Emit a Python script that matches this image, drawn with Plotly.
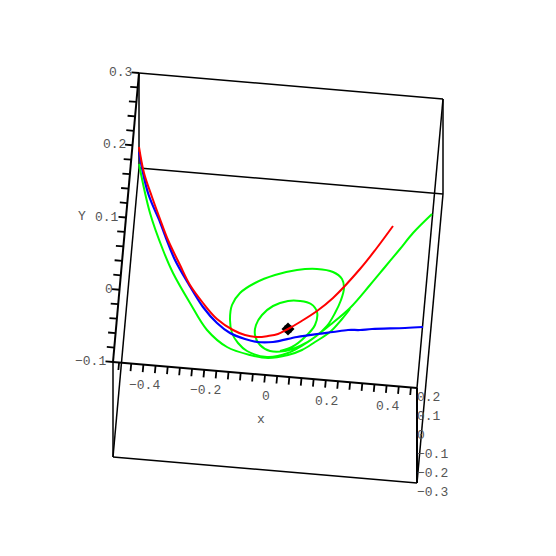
"""Box plot of three trajectories, drawn on a flat picture-unit axis."""
import plotly.graph_objects as go

# box axes (values)
x_ticks = [-0.48 + 0.04 * i for i in range(25)]
y_ticks = [-0.1 + 0.02 * i for i in range(21)]
x_labels = [(-0.4, "\u22120.4"), (-0.2, "\u22120.2"), (0.0, "0"), (0.2, "0.2"), (0.4, "0.4")]
y_labels = [(-0.1, "\u22120.1"), (0.0, "0"), (0.1, "0.1"), (0.2, "0.2"), (0.3, "0.3")]
z_labels = [(0.2, "0.2"), (0.1, "0.1"), (0.0, "0"), (-0.1, "\u22120.1"), (-0.2, "\u22120.2"), (-0.3, "\u22120.3")]

# curves
red_x = [139, 144, 152, 160, 168, 180, 190, 203, 217, 233, 245, 257, 268, 278, 288, 300, 317, 333, 360, 376, 393]
red_y = [147, 173, 197, 219, 240, 265, 285, 303, 319, 330, 335, 337, 336, 334, 329, 322, 311, 298, 269, 249, 226]

blue_x = [139, 148, 160, 166, 175, 188, 203, 217, 230, 245, 257, 273, 297, 317, 333, 348, 360, 372, 405, 423]
blue_y = [152, 193, 222, 238, 260, 283, 307, 323, 333, 339, 342, 342, 337, 334, 332, 330, 330, 329, 328, 327]

green_a_x = [139, 150, 163, 173, 190, 207, 227, 250, 268, 288, 302, 315, 330, 342, 350]
green_a_y = [164, 213, 250, 273, 303, 330, 347, 355, 358, 355, 350, 342, 332, 319, 309]

green_b_x = [432, 413, 400, 385, 370, 350, 330, 308, 288, 267, 247, 238, 232, 230, 232, 240, 255, 275, 297,
             317, 333, 342, 344, 341, 335, 327, 315, 300, 285, 270, 260, 255, 256, 262, 273, 288, 300, 311, 317, 315,
             305, 292, 280]
green_b_y = [214, 233, 249, 267, 285, 308, 325, 342, 353, 357, 351, 343, 333, 320, 305, 293, 283, 275, 270,
             269, 272, 279, 288, 300, 313, 326, 337, 346, 351, 351, 345, 335, 325, 315, 306, 301, 301, 304, 312, 325,
             337, 347, 351]

fixed_x = [288]
fixed_y = [329]

# where the box sits in the picture
origin = (113, 362)
ex = (304, 26)
ey = (26, -289)
ez = (0, 95)


def project(x, y, z=0.2):
    a, b, c = x + 0.5, (y + 0.1) / 0.4, (0.2 - z) / 0.5
    return (origin[0] + a * ex[0] + b * ey[0] + c * ez[0],
            origin[1] + a * ex[1] + b * ey[1] + c * ez[1])


def segment(fig, p, q, width=1.5, color="black"):
    fig.add_trace(go.Scatter(x=[p[0], q[0]], y=[p[1], q[1]], mode="lines",
                             line=dict(color=color, width=width), hoverinfo="skip"))


fig = go.Figure()

# box edges
corners = [(-0.5, 0.3), (0.5, 0.3), (0.5, -0.1), (-0.5, -0.1)]
for i in range(4):
    a, b = corners[i], corners[(i + 1) % 4]
    segment(fig, project(*a), project(*b), width=2.0 if i in (2, 3) else 1.5)
    segment(fig, project(*a, -0.3), project(*b, -0.3))
    segment(fig, project(*a), project(*a, -0.3), width=2.0 if i == 2 else 1.5)

# ticks
for v in x_ticks:
    p = project(v, -0.1)
    segment(fig, p, (p[0] - 0.7, p[1] + 7.5), width=1.8)
for v in y_ticks:
    p = project(-0.5, v)
    segment(fig, p, (p[0] - 7.5, p[1] - 0.6), width=1.8)

# curves
for gx, gy in [(green_a_x, green_a_y), (green_b_x, green_b_y)]:
    fig.add_trace(go.Scatter(x=gx, y=gy, mode="lines", line=dict(color="#00ff00", width=2, shape="spline", smoothing=1.0)))
fig.add_trace(go.Scatter(x=blue_x, y=blue_y, mode="lines", line=dict(color="#0000ff", width=2.2, shape="spline", smoothing=1.0)))
fig.add_trace(go.Scatter(x=fixed_x, y=fixed_y, mode="markers",
                         marker=dict(symbol="diamond", size=10, color="black")))
fig.add_trace(go.Scatter(x=fixed_x, y=fixed_y, mode="markers",
                         marker=dict(symbol="square", size=7, color="black")))
fig.add_trace(go.Scatter(x=red_x, y=red_y, mode="lines", line=dict(color="#ff0000", width=2, shape="spline", smoothing=1.0)))

# labels
font = dict(family="Liberation Mono", size=13, color="#555555")
notes = []
for v, t in x_labels:
    p = project(v, -0.1)
    notes.append(dict(x=p[0] + 1, y=p[1] + 21, text=t, xanchor="center"))
for v, t in y_labels:
    p = project(-0.5, v)
    notes.append(dict(x=p[0] - 6, y=p[1] - 0.5, text=t, xanchor="right"))
for v, t in z_labels:
    p = project(0.5, -0.1, v)
    notes.append(dict(x=p[0] - 1, y=p[1] + 9, text=t, xanchor="left"))
notes.append(dict(x=82, y=216, text="Y", xanchor="center"))
notes.append(dict(x=261, y=419, text="x", xanchor="center"))

# the page body keeps its 8 px margin, so the axes start 8 units in
fig.update_layout(
    width=540, height=540, showlegend=False, margin=dict(l=0, r=0, t=0, b=0),
    paper_bgcolor="white", plot_bgcolor="white",
    xaxis=dict(range=[8, 548], visible=False),
    yaxis=dict(range=[548, 8], visible=False),
    annotations=[dict(n, xref="x", yref="y", yanchor="middle", showarrow=False, font=font,
                      borderpad=0) for n in notes],
)
fig.write_html("out.html")
